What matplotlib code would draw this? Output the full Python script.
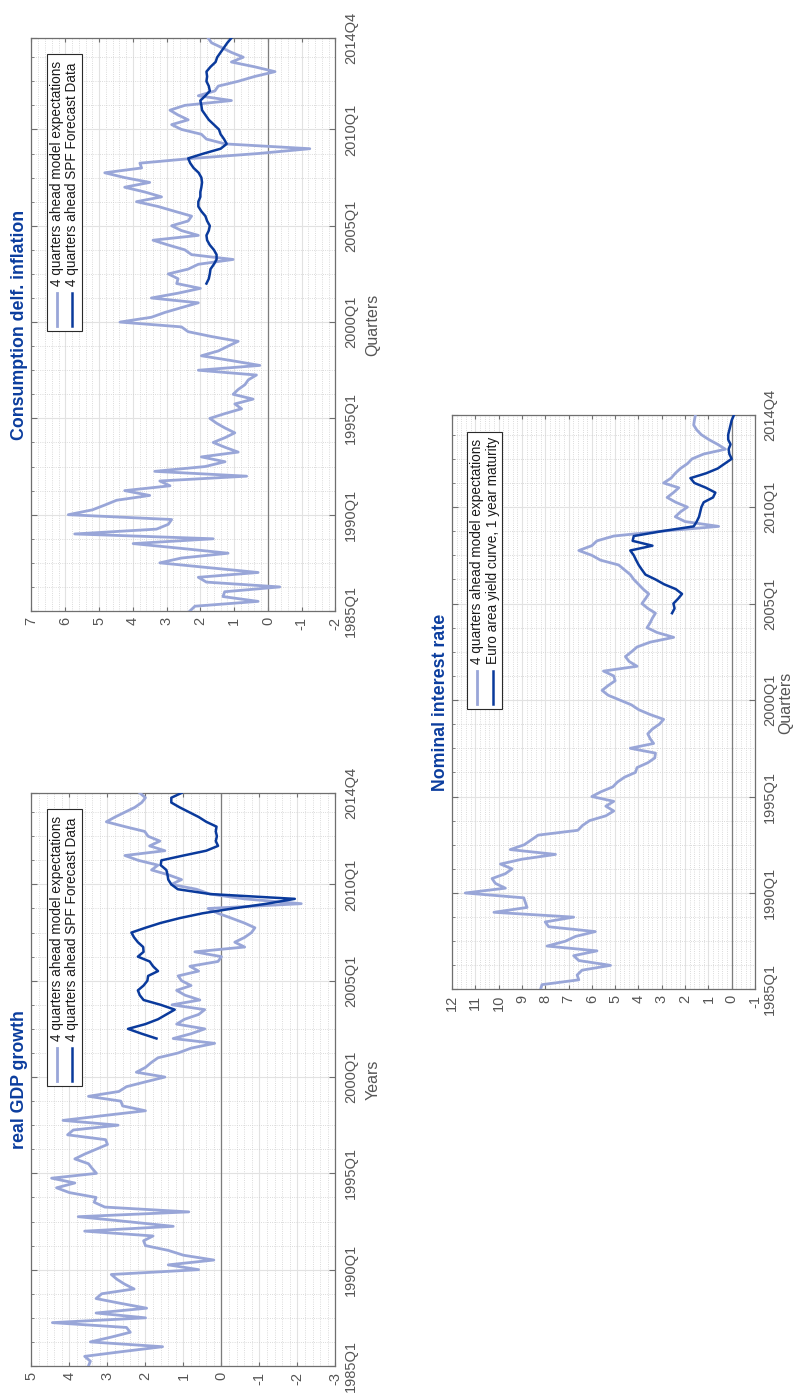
import matplotlib.pyplot as plt
from matplotlib.patches import Rectangle
from matplotlib.ticker import MultipleLocator

plt.rcParams['font.family'] = ['Liberation Sans', 'DejaVu Sans']
plt.rcParams['axes.unicode_minus'] = False

# quarterly time axis, 1985Q1 .. 2014Q4
quarters = [f"{y}Q{q}" for y in range(1985, 2015) for q in range(1, 5)]
time_ticks = ["1985Q1", "1990Q1", "1995Q1", "2000Q1", "2005Q1", "2010Q1", "2014Q4"]

# real GDP growth
gdp_model = [3.5, 3.45, 3.6, 2.6, 1.55, 3.45, 2.9, 2.4, 2.5, 4.45,
             2.0, 3.3, 1.97, 2.65, 3.3, 3.15, 2.3, 2.55, 2.75, 2.9,
             0.6, 1.4, 0.2, 1.0, 1.4, 2.0, 2.05, 1.8, 3.6, 1.27,
             2.5, 3.77, 0.86, 3.07, 3.35, 3.3, 4.0, 4.34, 3.86, 4.47,
             3.29, 3.4, 3.5, 3.86, 3.6, 3.3, 3.0, 3.05, 4.05, 3.9,
             2.72, 4.17, 3.1, 2.0, 2.6, 2.65, 3.5, 2.7, 2.5, 2.0,
             1.49, 2.24, 2.0, 1.85, 1.67, 1.14, 0.8, 0.18, 1.27, 0.8,
             0.44, 1.18, 0.97, 0.6, 0.44, 1.3, 0.57, 0.96, 1.18, 0.8,
             1.05, 1.14, 0.6, 0.83, 0.09, 0.0, 0.7, -0.61, -0.35, -0.61,
             -0.79, -0.88, -0.6, -0.26, 0.09, 0.35, -2.1, -0.6, 0.3, 0.66,
             1.32, 1.05, 1.4, 1.84, 1.67, 2.19, 2.54, 1.49, 1.89, 1.62,
             1.93, 2.02, 2.54, 3.03, 2.8, 2.54, 2.28, 2.1, 2.0, 2.15]
gdp_spf_start = "2002Q1"
gdp_spf = [1.71, 2.1, 2.46, 2.0, 1.67, 1.45, 1.23, 1.6, 2.05, 2.15,
           2.2, 2.05, 1.95, 1.93, 1.67, 1.8, 1.89, 2.2, 2.05, 2.06,
           2.2, 2.3, 2.37, 2.0, 1.6, 1.1, 0.5, -0.3, -1.2, -1.93,
           0.3, 1.15, 1.32, 1.4, 1.42, 1.45, 1.6, 1.58, 1.0, 0.4,
           0.09, 0.15, 0.12, 0.15, 0.13, 0.4, 0.6, 0.85, 1.1, 1.32,
           1.32, 1.05]

# consumption deflator inflation
inf_model = [2.31, 2.16, 0.29, 1.33, 1.28, -0.35, 1.82, 2.06, 0.29, 1.75,
             3.2, 2.56, 1.18, 2.56, 3.99, 1.62, 5.72, 3.3, 2.95, 2.85,
             5.91, 5.2, 4.83, 4.48, 3.5, 4.24, 2.9, 3.2, 0.63, 3.35,
             1.86, 1.27, 1.97, 0.88, 1.27, 1.62, 1.27, 0.98, 1.27, 1.52,
             1.72, 1.27, 0.78, 0.98, 0.44, 1.03, 0.88, 0.68, 0.58, 0.34,
             2.06, 0.24, 1.08, 1.97, 1.47, 1.18, 0.88, 1.67, 2.36, 2.56,
             4.38, 3.45, 3.05, 2.56, 2.06, 3.45, 2.66, 2.0, 2.7, 2.66,
             2.95, 2.36, 2.06, 1.03, 2.26, 2.46, 2.95, 3.4, 2.06, 2.56,
             2.85, 2.36, 2.26, 2.76, 3.25, 3.89, 3.15, 3.64, 4.24, 3.5,
             4.24, 4.83, 3.74, 3.79, 2.21, 0.29, -1.24, 1.27, 1.82, 1.97,
             2.56, 2.85, 2.36, 2.66, 2.9, 2.46, 1.08, 2.06, 1.57, 1.47,
             0.88, 0.39, -0.21, 0.39, 1.08, 0.73, 1.08, 1.37, 1.67, 1.77]
inf_spf_start = "2002Q1"
inf_spf = [1.82, 1.75, 1.72, 1.7, 1.6, 1.52, 1.52, 1.6, 1.72, 1.8,
           1.82, 1.75, 1.72, 1.8, 1.85, 1.97, 2.06, 2.06, 2.0, 2.0,
           1.97, 1.95, 1.97, 2.05, 2.2, 2.3, 2.36, 1.9, 1.4, 1.22,
           1.3, 1.4, 1.45, 1.6, 1.75, 1.85, 1.95, 1.97, 2.0, 1.85,
           1.72, 1.75, 1.82, 1.8, 1.82, 1.7, 1.55, 1.5, 1.4, 1.3,
           1.2, 1.08]

# nominal interest rate
nom_model = [8.2, 8.14, 6.56, 6.63, 6.42, 5.2, 6.56, 6.78, 5.78, 7.92,
             7.14, 6.7, 5.85, 7.85, 8.0, 6.78, 10.2, 8.78, 8.85, 8.92,
             11.43, 9.71, 10.14, 10.28, 9.71, 9.42, 9.92, 9.0, 7.56, 9.5,
             8.9, 8.6, 8.3, 6.6, 6.4, 6.1, 5.4, 5.06, 5.4, 5.06,
             6.0, 5.6, 5.1, 4.9, 4.6, 4.13, 4.06, 3.6, 3.3, 3.27,
             4.35, 3.35, 3.5, 3.6, 3.4, 3.1, 2.92, 3.5, 3.99, 4.3,
             4.8, 5.3, 5.56, 5.3, 5.0, 5.06, 5.5, 4.06, 4.4, 4.56,
             4.3, 4.06, 3.5, 2.49, 3.2, 3.63, 3.5, 3.4, 3.27, 3.6,
             3.85, 3.7, 3.56, 3.8, 4.0, 4.2, 4.35, 4.6, 4.85, 5.63,
             6.0, 6.56, 6.0, 5.78, 5.06, 3.0, 0.56, 2.0, 2.42, 2.2,
             1.9, 2.4, 2.77, 2.5, 2.27, 2.92, 2.6, 2.42, 2.2, 1.9,
             1.7, 1.2, 0.27, 0.6, 0.98, 1.3, 1.5, 1.63, 1.6, 1.56]
yield_start = "2004Q3"
yield_1y = [2.56, 2.45, 2.5, 2.3, 2.13, 2.4, 2.9, 3.27, 3.7, 3.85,
            3.99, 4.1, 4.2, 4.35, 3.4, 4.25, 4.2, 3.0, 1.63, 1.5,
            1.4, 1.35, 1.3, 1.2, 0.8, 0.7, 1.1, 1.6, 1.77, 1.1,
            0.6, 0.3, 0.0, 0.1, 0.13, 0.05, 0.15, 0.15, 0.1, 0.05,
            0.0, -0.09]

LIGHT = "#99a6d8"
DARK = "#0a3a9c"
TITLE_C = "#0b3d9e"
GREY = "#555555"

fig = plt.figure(figsize=(7.97, 13.95), dpi=100)


def panel(rect, title, tlabel, model, other, other_start, labels, vlim, tlabel_x=1.123):
    ax = fig.add_axes(rect)
    t = list(range(len(quarters)))
    s = quarters.index(other_start)
    ax.axvline(0, color="#7d7d7d", lw=0.9, zorder=2)
    ax.plot(model, t, color=LIGHT, lw=2.0, zorder=3, solid_joinstyle="round")
    ax.plot(other, t[s:s + len(other)], color=DARK, lw=1.8, zorder=4,
            solid_joinstyle="round")

    # value axis runs right-to-left, time runs upward (rotated page)
    ax.set_xlim(vlim[1], vlim[0])
    ax.set_ylim(0, len(quarters) - 1)
    ax.set_xticks(range(vlim[0], vlim[1] + 1))
    ax.xaxis.set_minor_locator(MultipleLocator(0.2))
    ax.set_yticks([quarters.index(q) for q in time_ticks])
    ax.set_yticklabels(time_ticks, va="center")
    ax.yaxis.set_minor_locator(MultipleLocator(5))

    ax.grid(which="major", color="#e2e2e2", lw=0.8)
    ax.grid(which="minor", color="#cfcfcf", lw=0.6, ls=":")
    ax.set_axisbelow(True)

    ax.tick_params(which="both", direction="in", colors="#6f6f6f",
                   labelcolor=GREY, labelsize=10.5)
    ax.tick_params(axis="x", top=True, bottom=True, labelrotation=90,
                   length=3, pad=4)
    ax.tick_params(axis="x", which="minor", length=0)
    ax.tick_params(axis="y", left=True, right=True, labelleft=False,
                   labelright=True, labelrotation=90, length=4.5, pad=6)
    ax.tick_params(axis="y", which="minor", length=2)
    for sp in ax.spines.values():
        sp.set_color("#6f6f6f")
        sp.set_linewidth(0.9)

    ax.text(-0.038, 0.5, title, transform=ax.transAxes, rotation=90,
            ha="center", va="center", fontsize=12.8, fontweight="bold",
            color=TITLE_C)
    ax.text(tlabel_x, 0.5, tlabel, transform=ax.transAxes, rotation=90,
            ha="center", va="center", fontsize=11.5, color=GREY)

    # legend box, drawn by hand so it can stand rotated
    ax.add_patch(Rectangle((0.051, 0.489), 0.115, 0.483, transform=ax.transAxes,
                           facecolor="white", edgecolor="#2a2a2a", lw=0.8,
                           zorder=5))
    for xr, lab, col, lw in [(0.084, labels[0], LIGHT, 2.0),
                             (0.134, labels[1], DARK, 1.8)]:
        ax.plot([xr, xr], [0.497, 0.555], transform=ax.transAxes, color=col,
                lw=lw, zorder=6)
        ax.text(xr, 0.567, lab, transform=ax.transAxes, rotation=90,
                ha="center", va="bottom", fontsize=9.8, color="#1a1a1a",
                zorder=6)
    return ax


spf_labels = ["4 quarters ahead model expectations",
              "4 quarters ahead SPF Forecast Data"]
panel([0.0395, 0.0208, 0.3814, 0.4108], "real GDP growth", "Years",
      gdp_model, gdp_spf, gdp_spf_start, spf_labels, (-3, 5))
panel([0.0395, 0.5620, 0.3814, 0.4108], "Consumption delf. inflation", "Quarters",
      inf_model, inf_spf, inf_spf_start, spf_labels, (-2, 7))
panel([0.5671, 0.2907, 0.3802, 0.4115], "Nominal interest rate", "Quarters",
      nom_model, yield_1y, yield_start,
      ["4 quarters ahead model expectations",
       "Euro area yield curve, 1 year maturity"], (-1, 12), tlabel_x=1.10)

fig.savefig("out.png", dpi=100)
